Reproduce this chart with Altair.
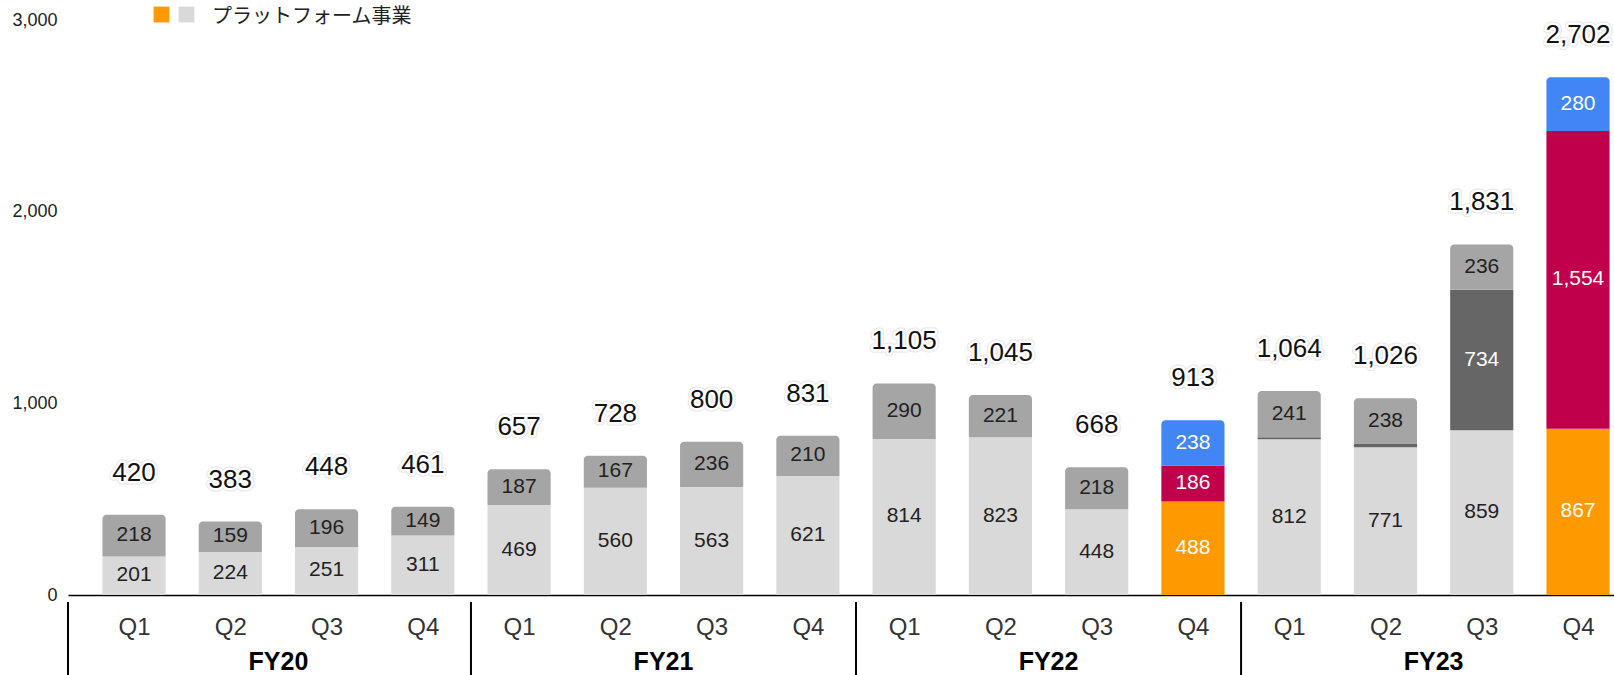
import json
import altair as alt
import pandas as pd

# ---------------- data ----------------
fiscal_years = ["FY20", "FY21", "FY22", "FY23"]
quarters = ["Q1", "Q2", "Q3", "Q4"]

light = [201, 224, 251, 311, 469, 560, 563, 621, 814, 823, 448, 0, 812, 771, 859, 0]
orange = [0, 0, 0, 0, 0, 0, 0, 0, 0, 0, 0, 488, 0, 0, 0, 867]
dark = [0, 0, 0, 0, 0, 0, 0, 0, 0, 0, 0, 0, 11, 17, 734, 0]
crimson = [0, 0, 0, 0, 0, 0, 0, 0, 0, 0, 0, 186, 0, 0, 0, 1554]
mid = [218, 159, 196, 149, 187, 167, 236, 210, 290, 221, 218, 0, 241, 238, 236, 0]
blue = [0, 0, 0, 0, 0, 0, 0, 0, 0, 0, 0, 238, 0, 0, 0, 280]
totals = [420, 383, 448, 461, 657, 728, 800, 831, 1105, 1045, 668, 913, 1064, 1026, 1831, 2702]

legend_label = "プラットフォーム事業"
y_ticks = [0, 1000, 2000, 3000]

seg_names = ["light", "orange", "dark", "crimson", "mid", "blue"]
seg_values = [light, orange, dark, crimson, mid, blue]
seg_colors = ["#d9d9d9", "#ff9900", "#666666", "#c1004b", "#a5a5a5", "#4285f4"]
seg_text = ["#222222", "#ffffff", "#ffffff", "#ffffff", "#222222", "#ffffff"]

# ---------------- tables ----------------
rows = []
tops = []
for i in range(len(totals)):
    base = 0
    bar_rows = []
    for name, vals, tcol in zip(seg_names, seg_values, seg_text):
        v = vals[i]
        if v > 0:
            bar_rows.append(dict(idx=i, seg=name, y0=base, y1=base + v, ym=base + v / 2,
                                 value=v, tcolor=tcol, top=False, show=v >= 50))
            base += v
    bar_rows[-1]["top"] = True
    rows.extend(bar_rows)
    tops.append(base)
df = pd.DataFrame(rows)

tot_df = pd.DataFrame({"idx": list(range(len(totals))), "top": tops, "total": totals})
fy_df = pd.DataFrame({"fy": fiscal_years, "center": [g * 4 + 1.5 for g in range(len(fiscal_years))]})

x_min, x_max = -0.686, 15.374
sep_df = pd.DataFrame({"sep": [x_min] + [g * 4 - 0.5 for g in range(1, len(fiscal_years))]})

# ---------------- scales / axes ----------------
xscale = alt.Scale(domain=[x_min, x_max], nice=False, zero=False)
yscale = alt.Scale(domain=[0, 3000], nice=False)

xaxis = alt.Axis(values=list(range(16)),
                 labelExpr=f"{json.dumps(quarters)}[datum.value % 4]",
                 grid=False, ticks=False, tickSize=0,
                 domainColor="#000000", domainWidth=1.6,
                 labelFontSize=24, labelPadding=20, labelColor="#333333",
                 labelFont="Liberation Sans", labelFlush=False, labelOverlap=False,
                 title=None)
yaxis = alt.Axis(values=y_ticks, format=",d", grid=False, domain=False, ticks=False,
                 tickSize=0, labelPadding=11, labelFontSize=18, labelColor="#222222",
                 labelFont="Liberation Sans", title=None)


def X(field):
    return alt.X(field, scale=xscale, axis=xaxis, title=None)


def Y(field):
    return alt.Y(field, scale=yscale, axis=yaxis, title=None)


color = alt.Color("seg:N", scale=alt.Scale(domain=seg_names, range=seg_colors), legend=None)

bar_base = alt.Chart(df).transform_calculate(x0="datum.idx - 0.328", x1="datum.idx + 0.328")

bars_lower = bar_base.transform_filter("!datum.top").mark_bar().encode(
    x=X("x0:Q"), x2="x1:Q", y=Y("y0:Q"), y2="y1:Q", color=color)
bars_top = bar_base.transform_filter("datum.top").mark_bar(
    cornerRadiusTopLeft=4, cornerRadiusTopRight=4).encode(
    x=X("x0:Q"), x2="x1:Q", y=Y("y0:Q"), y2="y1:Q", color=color)

seg_labels = alt.Chart(df).transform_filter("datum.show").mark_text(
    fontSize=21, font="Liberation Sans", baseline="middle", align="center", dy=-0.5).encode(
    x=X("idx:Q"), y=Y("ym:Q"), text=alt.Text("value:Q", format=",d"),
    color=alt.Color("tcolor:N", scale=None))

tot_enc = dict(x=X("idx:Q"), y=Y("top:Q"), text=alt.Text("total:Q", format=",d"))
tot_halo2 = alt.Chart(tot_df).mark_text(
    fontSize=26, font="Liberation Sans", baseline="middle", dy=-42,
    stroke="#d6d6d6", strokeWidth=7, strokeJoin="round", color="#d6d6d6", opacity=0.6).encode(**tot_enc)
tot_halo = alt.Chart(tot_df).mark_text(
    fontSize=26, font="Liberation Sans", baseline="middle", dy=-42,
    stroke="#ffffff", strokeWidth=5, strokeJoin="round", color="#ffffff").encode(**tot_enc)
tot_text = alt.Chart(tot_df).mark_text(
    fontSize=26, font="Liberation Sans", baseline="middle", dy=-42, color="#111111").encode(**tot_enc)

fy_labels = alt.Chart(fy_df).mark_text(
    fontSize=25, fontWeight="bold", font="Liberation Sans", baseline="middle", color="#000000").encode(
    x=X("center:Q"), y=alt.value(642), text="fy:N")

separators = alt.Chart(sep_df).mark_rule(color="#000000", strokeWidth=2).encode(
    x=X("sep:Q"), y=alt.value(582), y2=alt.value(662))

leg_sq1 = alt.Chart(pd.DataFrame({"c": [seg_colors[1]]})).mark_square(size=250, opacity=1).encode(
    x=alt.value(93.5), y=alt.value(-5.5), color=alt.Color("c:N", scale=None))
leg_sq2 = alt.Chart(pd.DataFrame({"c": [seg_colors[0]]})).mark_square(size=250, opacity=1).encode(
    x=alt.value(118.5), y=alt.value(-5.5), color=alt.Color("c:N", scale=None))
leg_text = alt.Chart(pd.DataFrame({"t": [legend_label]})).mark_text(
    fontSize=20, font="Noto Sans CJK JP", align="left", baseline="middle", color="#222222").encode(
    x=alt.value(144), y=alt.value(-3.5), text="t:N")

chart = alt.layer(
    bars_lower, bars_top, seg_labels, tot_halo2, tot_halo, tot_text,
    fy_labels, separators, leg_sq1, leg_sq2, leg_text
).properties(
    width=1546, height=575,
    padding={"left": 68, "top": 20, "right": 0, "bottom": 80},
    autosize=alt.AutoSizeParams(type="none"),
).configure_view(stroke=None)

chart.save("out.html", embed_options={"renderer": "svg", "actions": False})
